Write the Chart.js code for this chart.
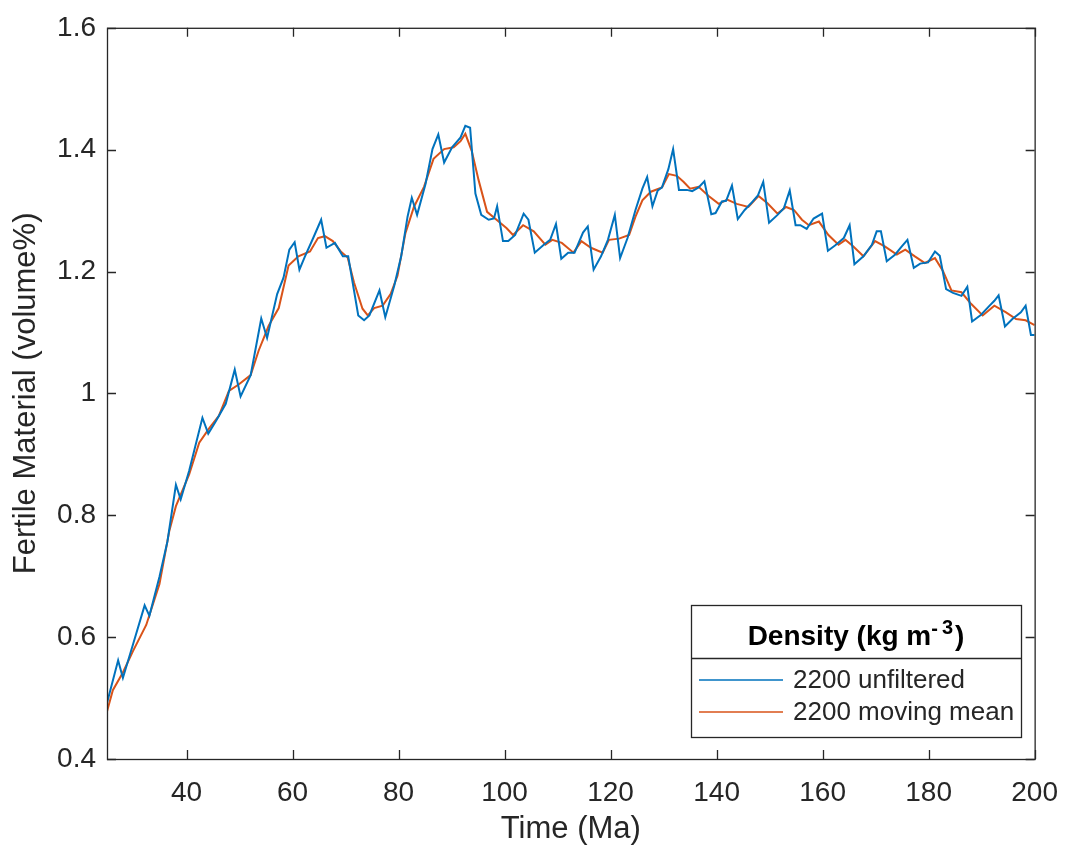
<!DOCTYPE html>
<html>
<head>
<meta charset="utf-8">
<script src="https://cdn.jsdelivr.net/npm/chart.js@4"></script>
<style>
  html, body { margin: 0; padding: 0; background: #fff; }
  #wrap { width: 1075px; height: 853px; }
</style>
</head>
<body>
<div id="wrap"><canvas id="fertileChart" width="1075" height="853"></canvas></div>
<script>
const ctx = document.getElementById("fertileChart");

// 2200 unfiltered: time (Ma) and fertile material (volume%)
const rawTime = [
  25, 27.1, 28, 29.9, 32.1, 33, 34.9, 36.4, 38, 38.9, 40.5, 43, 44.1, 45.5, 47.4, 49.1, 50.2, 52.1,
  54.1, 55.2, 57.1, 58.3, 59.4, 60.4, 61.3, 62.35, 63.9, 65.4, 66.4, 68, 69.5, 70.5, 72.4, 73.5,
  74.5, 76.4, 77.5, 79.2, 80.5, 81.7, 82.5, 83.5, 85.1, 86.4, 87.5, 88.6, 90.1, 91.7, 92.6, 93.5,
  94.5, 95.6, 97, 98, 98.6, 99.7, 100.7, 102, 103.6, 104.5, 105.7, 107.4, 108.6, 109.7, 110.7, 112,
  113.2, 114.8, 115.7, 116.8, 118.2, 119.5, 120.8, 121.8, 123.2, 124.7, 126, 126.9, 127.9, 128.9,
  129.7, 130.9, 131.8, 132.9, 134.4, 135.4, 136.6, 137.7, 139, 139.8, 141, 141.8, 142.9, 144,
  145.3, 146.5, 147.8, 148.8, 149.9, 151.5, 152.7, 153.8, 154.9, 155.8, 157, 158.3, 159.9, 161,
  162.4, 164, 165.1, 166, 167.7, 169.3, 170.2, 171, 172.1, 173.7, 174.9, 176, 177.2, 178.4, 179.9,
  181.2, 182.1, 183.3, 184.6, 186.2, 187.3, 188.2, 189.9, 191.5, 192.4, 193.2, 194.4, 195.8, 197.4,
  198.3, 199.3, 200
];
const rawValue = [
  0.492, 0.562, 0.533, 0.588, 0.652, 0.635, 0.699, 0.757, 0.85, 0.826, 0.873, 0.96, 0.934, 0.954, 0.983, 1.039, 0.995, 1.03,
  1.123, 1.091, 1.163, 1.19, 1.236, 1.248, 1.203, 1.225, 1.255, 1.285, 1.239, 1.247, 1.225, 1.225, 1.128, 1.12,
  1.128, 1.169, 1.125, 1.177, 1.225, 1.29, 1.321, 1.293, 1.344, 1.401, 1.425, 1.379, 1.404, 1.42, 1.439, 1.436,
  1.328, 1.293, 1.285, 1.287, 1.307, 1.25, 1.25, 1.26, 1.295, 1.285, 1.231, 1.244, 1.252, 1.278, 1.221, 1.231,
  1.231, 1.264, 1.274, 1.203, 1.225, 1.252, 1.293, 1.222, 1.255, 1.301, 1.336, 1.355, 1.307, 1.333,
  1.338, 1.368, 1.401, 1.334, 1.334, 1.332, 1.338, 1.348, 1.294, 1.296, 1.315, 1.316, 1.341, 1.286,
  1.301, 1.312, 1.325, 1.347, 1.28, 1.293, 1.304, 1.333, 1.276, 1.276, 1.27, 1.287, 1.295, 1.234,
  1.243, 1.255, 1.276, 1.212, 1.225, 1.244, 1.266, 1.266, 1.217, 1.228, 1.241, 1.252, 1.206, 1.213, 1.215,
  1.233, 1.226, 1.171, 1.165, 1.16, 1.175, 1.118, 1.129, 1.144, 1.152, 1.161, 1.11, 1.122, 1.133,
  1.144, 1.096, 1.096
];

// 2200 moving mean
const meanTime = [
  25, 26.1, 28, 29.9, 32.4, 34.9, 36.75, 38, 40.5, 42.4, 44.3, 46.1, 48, 49.9, 52.1, 53.6, 55.5, 57.4,
  59.25, 61.1, 63.3, 64.8, 66.1, 67.6, 69.1, 70.4, 71.6, 73.2, 74.2, 75.4, 77, 78.5, 79.8, 81.3, 82.9,
  84.8, 86.6, 88.6, 90.4, 91.7, 92.6, 93.8, 95.1, 96.7, 98.6, 100.4, 101.6, 103.5, 105.5, 107.7, 109,
  110.8, 113, 114.5, 116.3, 118.5, 119.7, 121.6, 123.5, 124.7, 126, 127.6, 129.7, 131, 132.5, 133.8,
  135, 136.6, 138.5, 140.4, 142, 143.8, 146, 147.9, 149.6, 151.5, 153.1, 154.6, 156.1, 157.4, 159.3,
  161.1, 163, 164.3, 165.8, 167.7, 169.9, 171.8, 174, 175.6, 177.4, 179.3, 181.2, 182.7, 184.3, 186.2,
  188, 190.2, 192.4, 194.6, 196.5, 198.3, 200
];
const meanValue = [
  0.478, 0.513, 0.542, 0.577, 0.62, 0.687, 0.774, 0.815, 0.867, 0.919, 0.943, 0.963, 1.004, 1.015, 1.03, 1.07, 1.111, 1.14,
  1.21, 1.225, 1.233, 1.255, 1.258, 1.25, 1.233, 1.223, 1.182, 1.139, 1.128, 1.14, 1.144, 1.163, 1.193, 1.263, 1.306,
  1.339, 1.385, 1.401, 1.404, 1.414, 1.426, 1.398, 1.35, 1.298, 1.284, 1.271, 1.26, 1.276, 1.266, 1.244, 1.252,
  1.247, 1.231, 1.25, 1.239, 1.231, 1.252, 1.254, 1.26, 1.29, 1.317, 1.331, 1.338, 1.36, 1.357, 1.347,
  1.336, 1.339, 1.324, 1.311, 1.318, 1.311, 1.306, 1.324, 1.312, 1.295, 1.306, 1.301, 1.285, 1.276, 1.282,
  1.26, 1.244, 1.252, 1.241, 1.225, 1.25, 1.241, 1.228, 1.236, 1.225, 1.214, 1.222, 1.201, 1.169, 1.166,
  1.147, 1.128, 1.144, 1.133, 1.122, 1.12, 1.112
];

const xTicks = [40, 60, 80, 100, 120, 140, 160, 180, 200];
const yTicks = [0.4, 0.6, 0.8, 1.0, 1.2, 1.4, 1.6];

const AXIS_COLOR = "#262626";
const FONT = "'Liberation Sans', Arial, Helvetica, sans-serif";
const BLUE = "#0072BD";
const ORANGE = "#D95319";

function toPoints(xs, ys) {
  return xs.map((x, i) => ({ x: x, y: ys[i] }));
}

// matlab style box with inward ticks on all four sides
const boxTicks = {
  id: "boxTicks",
  afterDatasetsDraw(chart) {
    const c = chart.ctx;
    const { left, right, top, bottom } = chart.chartArea;
    const len = 9;
    c.save();
    c.strokeStyle = AXIS_COLOR;
    c.lineWidth = 1.3;
    c.strokeRect(left + 0.5, top + 0.5, right - left, bottom - top);
    c.beginPath();
    xTicks.forEach((v) => {
      const px = Math.round(chart.scales.x.getPixelForValue(v)) + 0.5;
      c.moveTo(px, bottom);
      c.lineTo(px, bottom - len);
      c.moveTo(px, top);
      c.lineTo(px, top + len);
    });
    yTicks.forEach((v) => {
      const py = Math.round(chart.scales.y.getPixelForValue(v)) + 0.5;
      c.moveTo(left, py);
      c.lineTo(left + len, py);
      c.moveTo(right, py);
      c.lineTo(right - len, py);
    });
    c.stroke();
    c.restore();
  },
};

// legend box with a title, lower right inside the axes
const boxLegend = {
  id: "boxLegend",
  afterDraw(chart) {
    const c = chart.ctx;
    const bx = 691, by = 605, bw = 330, bh = 132, sep = 658;
    c.save();
    c.fillStyle = "#fff";
    c.fillRect(bx, by, bw, bh);
    c.strokeStyle = AXIS_COLOR;
    c.lineWidth = 1.3;
    c.strokeRect(bx + 0.5, by + 0.5, bw, bh);
    c.beginPath();
    c.moveTo(bx, sep + 0.5);
    c.lineTo(bx + bw, sep + 0.5);
    c.stroke();

    // title: Density (kg m^-3)
    c.fillStyle = "#000";
    c.textBaseline = "alphabetic";
    c.textAlign = "left";
    const big = "bold 28px " + FONT;
    const small = "bold 20px " + FONT;
    const t1 = "Density (kg m", t2 = "-", t3 = "3", t4 = ")";
    c.font = big;
    const w1 = c.measureText(t1).width, w4 = c.measureText(t4).width;
    c.font = small;
    const w2 = c.measureText(t2).width, w3 = c.measureText(t3).width;
    const gap = 4;
    const total = w1 + w2 + gap + w3 + 2 + w4;
    let tx = bx + bw / 2 - total / 2;
    const base = 645;
    c.font = big;
    c.fillText(t1, tx, base);
    tx += w1;
    c.font = small;
    c.fillText(t2, tx, base - 10);
    tx += w2 + gap;
    c.fillText(t3, tx, base - 11);
    tx += w3 + 2;
    c.font = big;
    c.fillText(t4, tx, base);

    // entries
    const ds = chart.data.datasets;
    const rows = [681, 713];
    c.font = "26px " + FONT;
    c.textBaseline = "middle";
    c.fillStyle = AXIS_COLOR;
    ds.forEach((d, i) => {
      const y = rows[i];
      c.strokeStyle = d.borderColor;
      c.lineWidth = 1.5;
      c.beginPath();
      c.moveTo(699, y - 1);
      c.lineTo(783, y - 1);
      c.stroke();
      c.fillText(d.label, 793, y);
    });
    c.restore();
  },
};

const fertileChart = new Chart(ctx, {
  type: "line",
  data: {
    datasets: [
      {
        label: "2200 unfiltered",
        data: toPoints(rawTime, rawValue),
        borderColor: BLUE,
        borderWidth: 2,
        pointRadius: 0,
        tension: 0,
      },
      {
        label: "2200 moving mean",
        data: toPoints(meanTime, meanValue),
        borderColor: ORANGE,
        borderWidth: 2,
        pointRadius: 0,
        tension: 0,
      },
    ],
  },
  options: {
    responsive: false,
    animation: false,
    devicePixelRatio: 1,
    layout: { padding: { left: 0, right: 33, top: 19, bottom: 0 } },
    plugins: {
      legend: { display: false },
      tooltip: { enabled: false },
    },
    scales: {
      x: {
        type: "linear",
        min: 25,
        max: 200,
        afterBuildTicks: (axis) => {
          axis.ticks = xTicks.map((v) => ({ value: v }));
        },
        afterFit: (axis) => {
          axis.height = 94;
        },
        grid: { display: false, drawTicks: false },
        border: { display: false },
        ticks: {
          color: AXIS_COLOR,
          font: { family: FONT, size: 28 },
          padding: 17,
          maxRotation: 0,
          autoSkip: false,
          callback: (v) => String(v),
        },
        title: {
          display: true,
          text: "Time (Ma)",
          color: AXIS_COLOR,
          font: { family: FONT, size: 31 },
          padding: { top: 0, bottom: 5 },
        },
      },
      y: {
        min: 0.4,
        max: 1.6,
        afterBuildTicks: (axis) => {
          axis.ticks = yTicks.map((v) => ({ value: v }));
        },
        afterFit: (axis) => {
          axis.width = 107;
        },
        grid: { display: false, drawTicks: false },
        border: { display: false },
        ticks: {
          color: AXIS_COLOR,
          font: { family: FONT, size: 28 },
          padding: 11,
          autoSkip: false,
          callback: (v) => String(+v.toFixed(1)),
        },
        title: {
          display: true,
          text: "Fertile Material (volume%)",
          color: AXIS_COLOR,
          font: { family: FONT, size: 31 },
          padding: { top: 8, bottom: 0 },
        },
      },
    },
  },
  plugins: [boxTicks, boxLegend],
});
</script>
</body>
</html>
